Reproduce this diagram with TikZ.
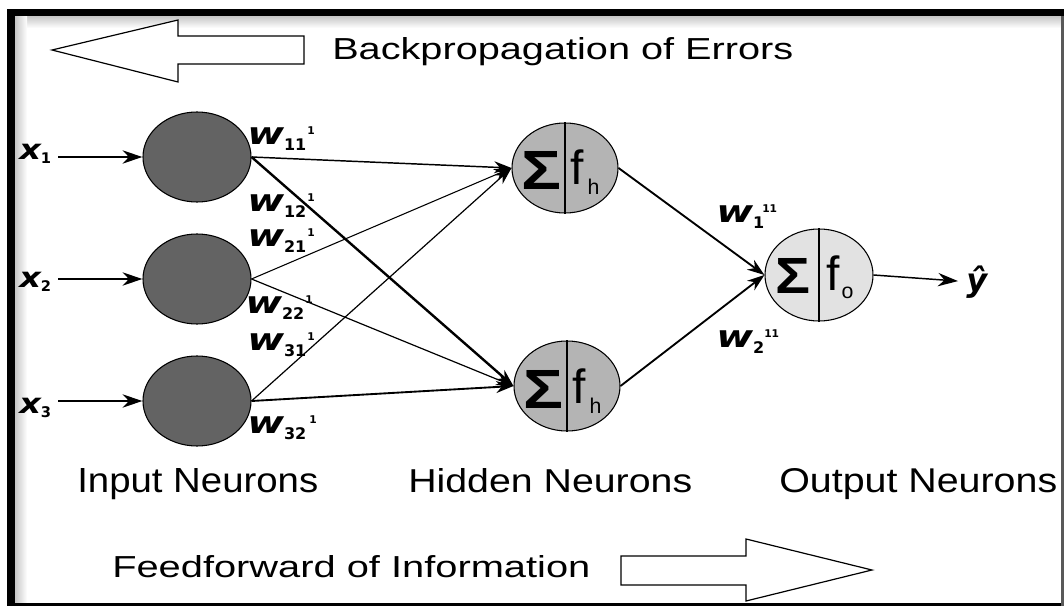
\documentclass[tikz,border=0pt]{standalone}
\usepackage{fontspec}
\setmainfont{Liberation Sans}
\newfontfamily\wfont{DejaVu Sans}
\usepackage{graphicx}
\usetikzlibrary{shapes.geometric,arrows.meta}
\newdimen\pxu \pxu=0.75pt
\newcommand\fitt[3]{\resizebox{#1\pxu}{#2\pxu}{#3}}
\newcommand\wl[4]{\makebox[#4\pxu][l]{\scalebox{1.3}[1]{w}\raisebox{-6\pxu}{\upshape\fontsize{12}{12}\selectfont #1}}\raisebox{10\pxu}{\upshape\fontsize{8}{8}\selectfont #2}}
\newcommand\xl[1]{\scalebox{1.2}[1]{x}\raisebox{-4\pxu}{\upshape\fontsize{11}{11}\selectfont #1}}
\definecolor{indark}{HTML}{636363}
\definecolor{hidgray}{HTML}{B4B4B4}
\definecolor{outgray}{HTML}{E2E2E2}
\begin{document}
\begin{tikzpicture}[x=0.75pt,y=-0.75pt,
  inneuron/.style={ellipse, draw=black, line width=0.8pt, fill=indark, minimum width=81pt, minimum height=67.5pt, inner sep=0pt},
  hidneuron/.style={ellipse, draw=black, line width=0.8pt, fill=hidgray, minimum width=79.5pt, minimum height=67.5pt, inner sep=0pt},
  outneuron/.style={ellipse, draw=black, line width=0.8pt, fill=outgray, minimum width=81pt, minimum height=69pt, inner sep=0pt},
  txt/.style={anchor=base west, inner sep=0pt},
  wlab/.style={anchor=base west, inner sep=0pt, font=\wfont\bfseries\itshape\fontsize{23}{23}\selectfont},
  xlab/.style={anchor=base west, inner sep=0pt, font=\wfont\bfseries\itshape\fontsize{21}{21}\selectfont},
  tip/.style={-{Stealth[length=13pt,width=9pt]}},
  intip/.style={-{Stealth[length=15pt,width=10pt]}},
  bigarrow/.style={draw=black, line width=0.9pt, fill=white, line join=miter}
]
\useasboundingbox (0,0) rectangle (1064,606);
\fill[white] (0,0) rectangle (1064,606);
% frame
\shade[top color=gray!45, bottom color=white] (15,16) rectangle (1062,28);
\shade[left color=gray!45, right color=white] (15,16) rectangle (27,603);
\fill[black] (7,9) rectangle (1064,16);
\fill[black] (7,9) rectangle (15,606);
\fill[black] (7,603) rectangle (1064,606);
\fill[gray!70!black] (1061,16) rectangle (1064,606);

% big arrows
\draw[bigarrow] (52,50) -- (178,20) -- (178,36) -- (304,36) -- (304,64) -- (178,64) -- (178,82) -- cycle;
\draw[bigarrow] (621,556) -- (746,556) -- (746,539) -- (872,570) -- (746,601) -- (746,585) -- (621,585) -- cycle;

% titles
\node[txt] (tback) at (332,60) {\fitt{461}{22}{Backpropagation of Errors}};
\node[txt] (tfeed) at (112,577) {\fitt{478}{22}{Feedforward of Information}};
\node[txt] (tin) at (77,492) {\fitt{241}{24}{Input Neurons}};
\node[txt] (thid) at (408,492) {\fitt{284}{24}{Hidden Neurons}};
\node[txt] (tout) at (779,492) {\fitt{278}{24}{Output Neurons}};

% neurons
\node[inneuron] (in1) at (197,157) {};
\node[inneuron] (in2) at (197,279) {};
\node[inneuron] (in3) at (197,401) {};
\node[hidneuron] (h1) at (565,168) {};
\node[hidneuron] (h2) at (567,386) {};
\node[outneuron] (out) at (819,275) {};
\draw[line width=0.9pt] (h1.north) -- (h1.south);
\draw[line width=0.9pt] (h2.north) -- (h2.south);
\draw[line width=0.9pt] (out.north) -- (out.south);

% sigma and f
\node[txt] (sg1) at (521,190) {\fitt{40}{38}{\bfseries Σ}};
\node[txt] (fh1) at (570,185) {\fontsize{36}{36}\selectfont f\hspace{4\pxu}\raisebox{-10\pxu}{\fontsize{16}{16}\selectfont h}};
\node[txt] (sg2) at (523,408) {\fitt{40}{38}{\bfseries Σ}};
\node[txt] (fh2) at (572,403) {\fontsize{36}{36}\selectfont f\hspace{4\pxu}\raisebox{-10\pxu}{\fontsize{16}{16}\selectfont h}};
\node[txt] (sgo) at (775,293) {\fitt{35}{35}{\bfseries Σ}};
\node[txt] (fo) at (826,290) {\fontsize{36}{36}\selectfont f\hspace{2\pxu}\raisebox{-8\pxu}{\fontsize{16}{16}\selectfont o}};

% input labels and arrows
\node[xlab] (x1) at (19,160) {\xl{1}};
\node[xlab] (x2) at (19,287) {\xl{2}};
\node[xlab] (x3) at (19,413) {\xl{3}};
\coordinate (s1) at (58,157);
\coordinate (s2) at (58,279);
\coordinate (s3) at (58,401);
\draw[intip, line width=1.1pt] (s1) -- (in1.west);
\draw[intip, line width=1.1pt] (s2) -- (in2.west);
\draw[intip, line width=1.1pt] (s3) -- (in3.west);

% input -> hidden
\draw[tip, line width=1.1pt] (in1.east) -- (h1.west);
\draw[tip, line width=1.8pt] (in1.east) -- (h2.west);
\draw[tip, line width=0.8pt] (in2.east) -- (h1.west);
\draw[tip, line width=0.9pt] (in2.east) -- (h2.west);
\draw[tip, line width=0.9pt] (in3.east) -- (h1.west);
\draw[tip, line width=1.4pt] (in3.east) -- (h2.west);

% hidden -> output
\draw[tip, line width=1.4pt] (h1.east) -- (out.west);
\draw[tip, line width=1.4pt] (h2.east) -- (out.west);

% output
\node[xlab, font=\wfont\bfseries\itshape\fontsize{24}{24}\selectfont] (yhat) at (966,291) {ŷ};
\draw[intip, line width=1.1pt, shorten >=6pt] (out.east) -- (yhat.west);

% weight labels
\node[wlab] (w11) at (247,145) {\wl{11}{1}{x}{60}};
\node[wlab] (w12) at (247,212) {\wl{12}{1}{x}{60}};
\node[wlab] (w21) at (247,247) {\wl{21}{1}{x}{60}};
\node[wlab] (w22) at (245,313) {\wl{22}{1}{x}{60}};
\node[wlab] (w31) at (247,350) {\wl{31}{1}{x}{60}};
\node[wlab] (w32) at (247,433) {\wl{32}{1}{x}{62}};
\node[wlab] (wo1) at (716,223) {\wl{1}{11}{x}{46}};
\node[wlab] (wo2) at (716,347) {\wl{2}{11}{x}{48}};
\end{tikzpicture}
\end{document}
